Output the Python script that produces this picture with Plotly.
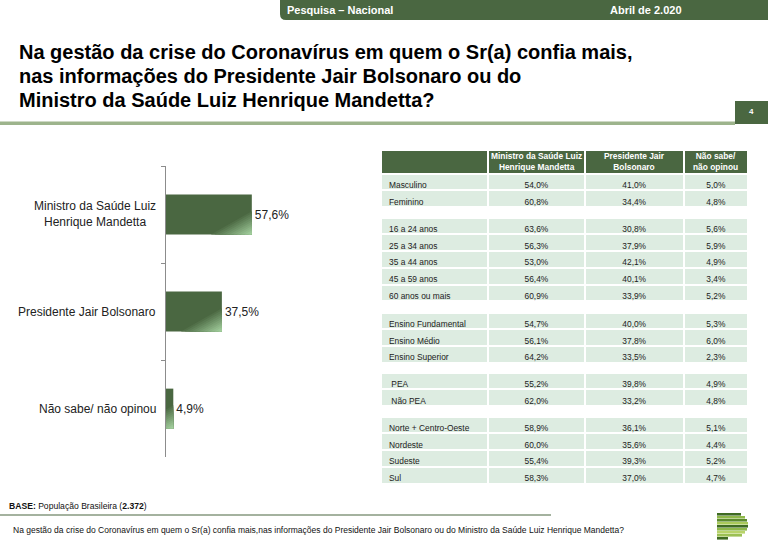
import plotly.graph_objects as go

W, H = 768, 540
def X(px): return px / W
def Y(py): return 1 - py / H

DARK = "#4a6741"
DARK_RGB = (74, 103, 65)
LIGHT_RGB = (163, 207, 158)
LIGHT_LINE = "#9db48c"
ROW_FILL = "#ddece1"
TXT = "#222222"
FONT = "Liberation Sans, Arial, sans-serif"

# ---- data ----
bar_categories = ["Ministro da Saúde Luiz<br>Henrique Mandetta", "Presidente Jair Bolsonaro", "Não sabe/ não opinou"]
bar_values = [57.6, 37.5, 4.9]

table_header = ["", "Ministro da Saúde Luiz<br>Henrique Mandetta", "Presidente Jair<br>Bolsonaro", "Não sabe/<br>não opinou"]
group_sexo = ["Masculino", "Feminino"]
sexo_mandetta = ["54,0%", "60,8%"]
sexo_bolsonaro = ["41,0%", "34,4%"]
sexo_ns = ["5,0%", "4,8%"]

group_idade = ["16 a 24 anos", "25 a 34 anos", "35 a 44 anos", "45 a 59 anos", "60 anos ou mais"]
idade_mandetta = ["63,6%", "56,3%", "53,0%", "56,4%", "60,9%"]
idade_bolsonaro = ["30,8%", "37,9%", "42,1%", "40,1%", "33,9%"]
idade_ns = ["5,6%", "5,9%", "4,9%", "3,4%", "5,2%"]

group_escol = ["Ensino Fundamental", "Ensino Médio", "Ensino Superior"]
escol_mandetta = ["54,7%", "56,1%", "64,2%"]
escol_bolsonaro = ["40,0%", "37,8%", "33,5%"]
escol_ns = ["5,3%", "6,0%", "2,3%"]

group_pea = [" PEA", " Não PEA"]
pea_mandetta = ["55,2%", "62,0%"]
pea_bolsonaro = ["39,8%", "33,2%"]
pea_ns = ["4,9%", "4,8%"]

group_regiao = ["Norte + Centro-Oeste", "Nordeste", "Sudeste", "Sul"]
regiao_mandetta = ["58,9%", "60,0%", "55,4%", "58,3%"]
regiao_bolsonaro = ["36,1%", "35,6%", "39,3%", "37,0%"]
regiao_ns = ["5,1%", "4,4%", "5,2%", "4,7%"]

fig = go.Figure()

# ---- bar chart ----
BAR_W = 0.41
fig.add_trace(go.Bar(
    x=bar_values, y=bar_categories, orientation="h",
    marker=dict(color=DARK, line=dict(width=0)),
    width=BAR_W,
    text=bar_values, texttemplate="%{x:.1f}%", textposition="outside",
    textfont=dict(family=FONT, size=12, color=TXT),
    cliponaxis=False, showlegend=False, hoverinfo="skip",
))

# diagonal light shading in each bar's lower-right corner (stepped gradient),
# built from the bar values on an overlaid linear y axis
GRAD_DX = 30.0   # horizontal extent in value units
GRAD_DY = 0.26   # vertical extent in category units
STEPS = 12
for i, v in enumerate(bar_values):
    bottom = i + BAR_W / 2
    for k in range(1, STEPS):
        s = 1 - k / STEPS
        t = k / (STEPS - 1)
        col = tuple(round(d + (l - d) * t) for d, l in zip(DARK_RGB, LIGHT_RGB))
        dx, dy = s * GRAD_DX, s * GRAD_DY
        if v - dx >= 0:
            xs = [v - dx, v, v, v - dx]
            ys = [bottom, bottom, bottom - dy, bottom]
        else:
            xs = [0, v, v, 0, 0]
            ys = [bottom, bottom, bottom - dy, bottom - dy * (dx - v) / dx, bottom]
        fig.add_trace(go.Scatter(
            x=xs, y=ys, yaxis="y2", mode="lines", fill="toself",
            fillcolor=f"rgb{col}", line=dict(width=0), showlegend=False, hoverinfo="skip",
        ))

for cat in bar_categories:
    fig.add_annotation(x=X(158), xref="paper", y=cat, yref="y", text=cat,
                       xanchor="right", yanchor="middle", align="center", showarrow=False,
                       font=dict(family=FONT, size=12, color=TXT))

# ---- tables ----
TBL_X0, TBL_X1 = 381, 748
col_w = [107, 96, 99, 64]
ROW_H = 16.8
HEAD_H = 23.5
CELL_FONT = dict(family=FONT, size=8.4, color=TXT)
ALIGN = ["left", "center", "center", "center"]
groups = [
    (group_sexo, sexo_mandetta, sexo_bolsonaro, sexo_ns, 150, True),
    (group_idade, idade_mandetta, idade_bolsonaro, idade_ns, 217.5, False),
    (group_escol, escol_mandetta, escol_bolsonaro, escol_ns, 312.5, False),
    (group_pea, pea_mandetta, pea_bolsonaro, pea_ns, 372.5, False),
    (group_regiao, regiao_mandetta, regiao_bolsonaro, regiao_ns, 416.5, False),
]
for labels, a, b, c, top, with_header in groups:
    n = len(labels)
    if with_header:
        header = dict(values=[""] * 4, height=HEAD_H, fill_color=DARK,
                      line=dict(color="white", width=2), align="center",
                      font=dict(family=FONT, size=8.4, color="white"))
        cols = [labels, a, b, c]
        bottom = top + HEAD_H + n * ROW_H + 4
    else:
        header = dict(values=[[labels[0]], [a[0]], [b[0]], [c[0]]], height=ROW_H, fill_color=ROW_FILL,
                      line=dict(color="white", width=2), align=ALIGN, font=CELL_FONT)
        cols = [labels[1:], a[1:], b[1:], c[1:]]
        bottom = top + n * ROW_H + 4
    fig.add_trace(go.Table(
        domain=dict(x=[X(TBL_X0), X(TBL_X1)], y=[Y(bottom), Y(top)]),
        columnwidth=col_w,
        header=header,
        cells=dict(values=cols, height=ROW_H, fill_color=ROW_FILL,
                   line=dict(color="white", width=2),
                   align=ALIGN, font=CELL_FONT),
    ))

scale = (TBL_X1 - TBL_X0) / sum(col_w)
left = TBL_X0
for w, label in zip(col_w, table_header):
    centre = left + w * scale / 2
    left += w * scale
    if label:
        fig.add_annotation(x=X(centre), y=Y(150 + HEAD_H / 2), xref="paper", yref="paper", text=label,
                           showarrow=False, xanchor="center", yanchor="middle", align="center",
                           font=dict(family=FONT, size=8.4, color="white", weight="bold"))

# ---- layout ----
fig.update_layout(
    width=W, height=H, autosize=False,
    margin=dict(l=0, r=0, t=0, b=0),
    paper_bgcolor="white", plot_bgcolor="white",
    separators=",.",
    bargap=0.59,
    xaxis=dict(domain=[X(166), X(315)], range=[0, 100], visible=False, fixedrange=True),
    yaxis=dict(domain=[Y(457), Y(166)], autorange=False, range=[2.5, -0.5],
               type="category", categoryorder="array", categoryarray=bar_categories,
               showticklabels=False, showline=True, linecolor="#8c8c8c", linewidth=1,
               ticks="outside", tickson="boundaries", ticklen=4, tickcolor="#8c8c8c",
               showgrid=False, zeroline=False, fixedrange=True),
    yaxis2=dict(overlaying="y", type="linear", range=[2.5, -0.5], autorange=False,
                visible=False, fixedrange=True),
)

shapes = []
shapes.append(dict(type="path", xref="paper", yref="paper",
                   path=f"M {X(280)},{Y(0)} L {X(768)},{Y(0)} L {X(768)},{Y(20)} L {X(286)},{Y(20)} "
                        f"Q {X(280)},{Y(20)} {X(280)},{Y(14)} Z",
                   fillcolor=DARK, line=dict(width=0)))
shapes.append(dict(type="rect", xref="paper", yref="paper", x0=X(0), x1=X(735), y0=Y(125), y1=Y(121.5),
                   fillcolor=LIGHT_LINE, line=dict(width=0)))
shapes.append(dict(type="rect", xref="paper", yref="paper", x0=X(735), x1=X(768), y0=Y(124), y1=Y(101),
                   fillcolor=DARK, line=dict(width=0)))
shapes.append(dict(type="line", xref="paper", yref="paper", x0=X(0), x1=X(551), y0=Y(515), y1=Y(515),
                   line=dict(color=DARK, width=1.2)))
logo = [(513, 741, "#3f6b22"), (516, 745, "#8fb84a"), (519, 747, "#5b8a2c"), (522, 748, "#a9c95a"),
        (525, 748, "#3f6b22"), (528, 747, "#8fb84a"), (531, 745, "#b8d36a"), (534, 742, "#9cc054"),
        (537, 728, "#3f6b22")]
for y0, xr, col in logo:
    shapes.append(dict(type="rect", xref="paper", yref="paper", x0=X(717), x1=X(xr), y0=Y(y0 + 2.6), y1=Y(y0),
                       fillcolor=col, line=dict(width=0)))
fig.update_layout(shapes=shapes)

def ann(px, py, text, size, color=TXT, bold=False, xanchor="left", yanchor="middle", family=FONT):
    fig.add_annotation(x=X(px), y=Y(py), xref="paper", yref="paper", text=text, showarrow=False,
                       xanchor=xanchor, yanchor=yanchor, align="left",
                       font=dict(family=family, size=size, color=color, weight="bold" if bold else "normal"))

ann(285, 9.5, "Pesquisa – Nacional", 11, "white", True)
ann(608, 9.5, "Abril de 2.020", 11, "white", True)
title_lines = ["Na gestão da crise do Coronavírus em quem o Sr(a) confia mais,",
               "nas informações do Presidente Jair Bolsonaro ou do",
               "Ministro da Saúde Luiz Henrique Mandetta?"]
for i, line in enumerate(title_lines):
    ann(17, 52 + 24 * i, line, 20, "black", True)
ann(751.5, 112, "4", 8, "white", True, xanchor="center")
ann(7, 506, "<b>BASE:</b> População Brasileira (<b>2.372</b>)", 8.6, "#111111")
ann(11, 530, "Na gestão da crise do Coronavírus em quem o Sr(a) confia mais,nas informações do Presidente "
             "Jair Bolsonaro ou do Ministro da Saúde Luiz Henrique Mandetta?", 8.5, "#111111")

fig.write_html("out.html", config={"displayModeBar": False},
               post_script="document.body.style.margin='0';document.body.style.overflow='hidden';")
